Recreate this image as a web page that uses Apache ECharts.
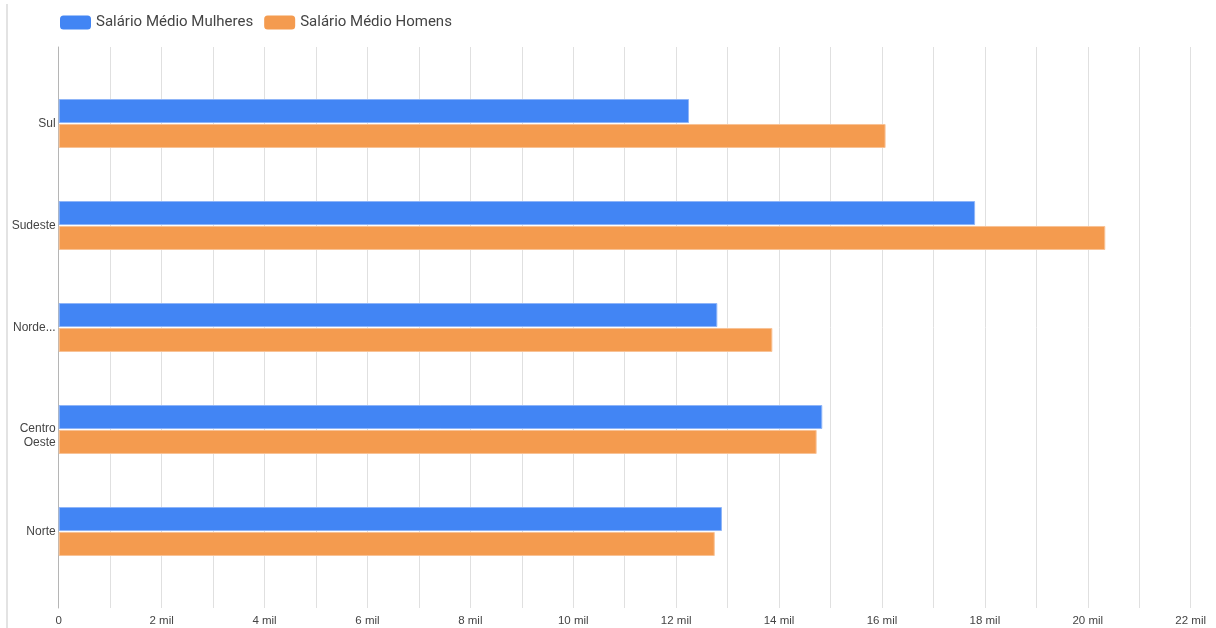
<!DOCTYPE html>
<html>
<head>
<meta charset="utf-8">
<script src="https://cdn.jsdelivr.net/npm/echarts@6/dist/echarts.min.js"></script>
<style>
html,body{margin:0;padding:0;background:#fff;}
#chart{width:1216px;height:628px;}
</style>
</head>
<body>
<div id="chart"></div>
<script>
const categories = ['Sul', 'Sudeste', 'Nordeste', 'Centro Oeste', 'Norte'];
const salarioMulheres = [12250, 17810, 12800, 14840, 12890];
const salarioHomens = [16070, 20340, 13870, 14730, 12750];
const seriesNames = ['Salário Médio Mulheres', 'Salário Médio Homens'];
const xMax = 22000;
const xStep = 2000;

const labelMap = { 'Nordeste': 'Norde...', 'Centro Oeste': '{d|Centro\nOeste}' };

const chart = echarts.init(document.getElementById('chart'), null, { renderer: 'canvas' });
const axisFont = 'Arial, "Liberation Sans", sans-serif';

chart.setOption({
  animation: false,
  backgroundColor: '#ffffff',
  color: ['#4285F4', '#F49B4F'],
  legend: {
    left: 55, top: 10,
    icon: 'roundRect',
    itemWidth: 31, itemHeight: 14, itemGap: 11,
    itemStyle: { borderWidth: 0 },
    textStyle: { fontFamily: 'Roboto, sans-serif', fontSize: 15, color: '#444' },
    data: seriesNames
  },
  graphic: [{
    type: 'line', silent: true,
    shape: { x1: 7, y1: 4, x2: 7, y2: 628 },
    style: { stroke: '#dadada', lineWidth: 1.5 }
  }],
  grid: [
    { left: 58.7, right: 25.3, top: 72.5, height: 510 },
    { left: 58.7, right: 25.3, top: 47, height: 561 }
  ],
  xAxis: [
    { gridIndex: 0, type: 'value', min: 0, max: xMax, show: false },
    {
      gridIndex: 1, type: 'value', min: 0, max: xMax, interval: xStep,
      axisLine: { show: false }, axisTick: { show: false },
      axisLabel: {
        margin: 7, fontSize: 11.5, color: '#444', fontFamily: axisFont,
        formatter: v => v === 0 ? '0' : (v / 1000) + ' mil'
      },
      splitLine: { show: true, lineStyle: { color: '#e0e0e0', width: 1 } },
      minorTick: { show: false, splitNumber: 2 },
      minorSplitLine: { show: true, lineStyle: { color: '#e0e0e0', width: 1 } }
    }
  ],
  yAxis: [
    {
      gridIndex: 0, type: 'category', data: categories, inverse: true,
      axisLine: { show: false }, axisTick: { show: false },
      axisLabel: {
        margin: 3, fontSize: 12, color: '#444', fontFamily: axisFont,
        lineHeight: 14, align: 'right',
        formatter: v => labelMap[v] || v,
        rich: { d: { fontSize: 12, lineHeight: 14, color: '#444', fontFamily: axisFont, align: 'right', padding: [12, 0, 0, 0] } }
      },
      splitLine: { show: false }
    },
    {
      gridIndex: 1, type: 'value', min: 0, max: 1,
      axisLine: { show: true, onZero: false, lineStyle: { color: '#b5b5b5', width: 1 } },
      axisTick: { show: false }, axisLabel: { show: false },
      splitLine: { show: false }
    }
  ],
  series: [
    {
      name: seriesNames[0], type: 'bar', xAxisIndex: 0, yAxisIndex: 0,
      data: salarioMulheres, barWidth: 24, barGap: '4%',
      itemStyle: { color: '#4285F4', borderColor: '#8fb5f8', borderWidth: 1 }
    },
    {
      name: seriesNames[1], type: 'bar', xAxisIndex: 0, yAxisIndex: 0,
      data: salarioHomens, barWidth: 24, barGap: '4%',
      itemStyle: { color: '#F49B4F', borderColor: '#f8c296', borderWidth: 1 }
    }
  ]
});
</script>
</body>
</html>
